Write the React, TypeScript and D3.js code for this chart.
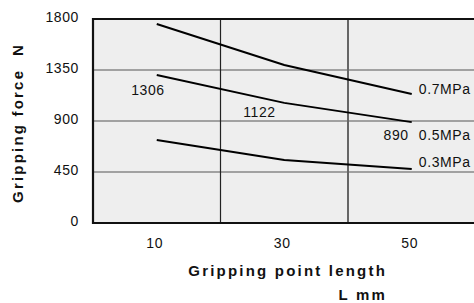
import { useEffect, useRef } from 'react';
import * as d3 from 'd3';

// Gripping force vs gripping point length, per supply pressure
const lengths = [10, 30, 50];
const pressures = ['0.7MPa', '0.5MPa', '0.3MPa'];
const force07 = [1756, 1394, 1138];
const force05 = [1306, 1060, 890];
const force03 = [732, 556, 476];
const yTicks = [0, 450, 900, 1350, 1800];
const xTicks = [10, 30, 50];
const xGrid = [20, 40];
const valueNotes = ['1306', '1122', '890'];

const W = 474;
const H = 303;
const FONT = '"Liberation Sans", Arial, sans-serif';

export default function App() {
  const svgRef = useRef<SVGSVGElement>(null);

  useEffect(() => {
    if (!svgRef.current) return;
    const svg = d3.select(svgRef.current);
    svg.selectAll('*').remove();

    const x = d3.scaleLinear().domain([0, 60]).range([93, 475.5]);
    const y = d3.scaleLinear().domain([0, 1800]).range([223, 19]);

    // plot background
    svg.append('rect')
      .attr('x', x(0))
      .attr('y', y(1800))
      .attr('width', x(60) - x(0) + 4)
      .attr('height', y(0) - y(1800))
      .attr('fill', '#eeeeee');

    // horizontal grid
    svg.selectAll('.hgrid')
      .data(yTicks.slice(1, -1))
      .enter().append('line')
      .attr('x1', x(0)).attr('x2', W)
      .attr('y1', d => y(d)).attr('y2', d => y(d))
      .attr('stroke', '#555')
      .attr('stroke-width', 1.2);

    // vertical grid
    svg.selectAll('.vgrid')
      .data(xGrid)
      .enter().append('line')
      .attr('x1', d => x(d)).attr('x2', d => x(d))
      .attr('y1', y(1800)).attr('y2', y(0))
      .attr('stroke', (d, i) => (i === 0 ? '#222' : '#666'))
      .attr('stroke-width', (d, i) => (i === 0 ? 1.2 : 2));

    // frame: left, top, bottom
    svg.append('path')
      .attr('d', `M${W + 2},${y(1800)}H${x(0)}V${y(0)}H${W + 2}`)
      .attr('fill', 'none')
      .attr('stroke', '#111')
      .attr('stroke-width', 2.2);

    const series = [force07, force05, force03];
    const line = d3.line<number>()
      .x((d, i) => x(lengths[i]))
      .y(d => y(d));

    svg.selectAll('.curve')
      .data(series)
      .enter().append('path')
      .attr('d', d => line(d))
      .attr('fill', 'none')
      .attr('stroke', '#000')
      .attr('stroke-width', 2);

    const last = lengths.length - 1;
    const seriesDy = [0, 18, -2];
    svg.selectAll('.slabel')
      .data(pressures)
      .enter().append('text')
      .attr('x', () => x(lengths[last]) + 7)
      .attr('y', (d, i) => y(series[i][last]) + seriesDy[i])
      .attr('font-family', FONT)
      .attr('font-size', 14)
      .attr('letter-spacing', 0.6)
      .attr('fill', '#111')
      .text(d => d);

    // value notes on the 0.5MPa curve
    const noteIdx = [0, 1, 2];
    const noteDx = [8, -41, -3];
    const noteDy = [20, 14, 18];
    const noteAnchor = ['end', 'start', 'end'];
    svg.selectAll('.note')
      .data(valueNotes)
      .enter().append('text')
      .attr('x', (d, i) => x(lengths[noteIdx[i]]) + noteDx[i])
      .attr('y', (d, i) => y(force05[noteIdx[i]]) + noteDy[i])
      .attr('text-anchor', (d, i) => noteAnchor[i])
      .attr('font-family', FONT)
      .attr('font-size', 14)
      .attr('letter-spacing', 0.6)
      .attr('fill', '#111')
      .text(d => d);

    // y tick labels
    svg.selectAll('.ytick')
      .data(yTicks)
      .enter().append('text')
      .attr('x', 79)
      .attr('y', d => y(d) - 2)
      .attr('dy', '0.35em')
      .attr('text-anchor', 'end')
      .attr('font-family', FONT)
      .attr('font-size', 14)
      .attr('letter-spacing', 0.6)
      .attr('fill', '#111')
      .text(d => d);

    // x tick labels
    svg.selectAll('.xtick')
      .data(xTicks)
      .enter().append('text')
      .attr('x', d => x(d) - 2)
      .attr('y', 248)
      .attr('text-anchor', 'middle')
      .attr('font-family', FONT)
      .attr('font-size', 14)
      .attr('letter-spacing', 0.6)
      .attr('fill', '#111')
      .text(d => d);

    // axis titles
    svg.append('text')
      .attr('x', 387)
      .attr('y', 276)
      .attr('text-anchor', 'end')
      .attr('font-family', FONT)
      .attr('font-size', 15)
      .attr('font-weight', 'bold')
      .attr('letter-spacing', 2.2)
      .attr('fill', '#111')
      .text('Gripping point length');

    svg.append('text')
      .attr('x', 387)
      .attr('y', 300)
      .attr('text-anchor', 'end')
      .attr('font-family', FONT)
      .attr('font-size', 15)
      .attr('font-weight', 'bold')
      .attr('letter-spacing', 2.2)
      .attr('fill', '#111')
      .text('L mm');

    svg.append('text')
      .attr('transform', 'translate(23,123) rotate(-90)')
      .attr('text-anchor', 'middle')
      .attr('font-family', FONT)
      .attr('font-size', 15)
      .attr('font-weight', 'bold')
      .attr('letter-spacing', 2.2)
      .attr('fill', '#111')
      .attr('xml:space', 'preserve')
      .style('white-space', 'pre')
      .text('Gripping force  N');
  }, []);

  return (
    <div style={{ position: 'fixed', left: 0, top: 0, width: W, height: H, background: '#fff' }}>
      <svg ref={svgRef} width={W} height={H} style={{ display: 'block' }} />
    </div>
  );
}
